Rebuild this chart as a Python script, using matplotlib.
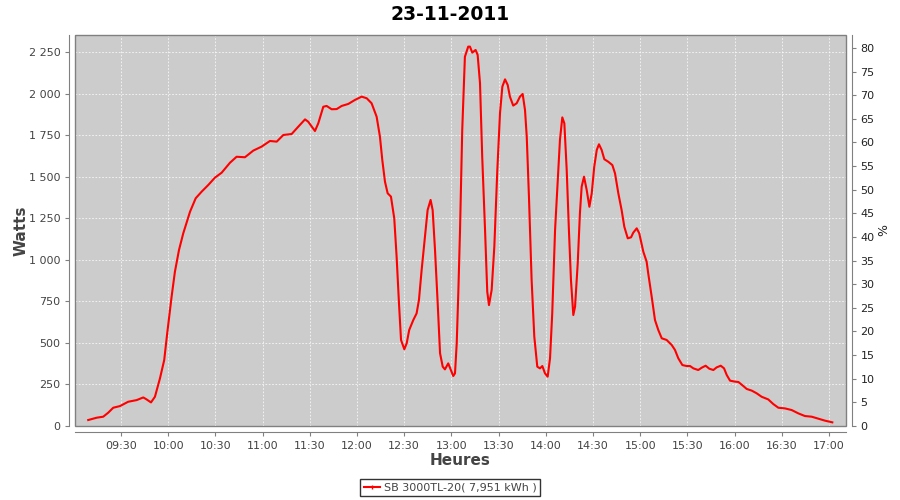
import matplotlib
matplotlib.use("Agg")
import matplotlib.pyplot as plt
from matplotlib.ticker import FuncFormatter, MultipleLocator
from matplotlib.patches import Rectangle

title = "23-11-2011"
series_label = "SB 3000TL-20( 7,951 kWh )"

# time in minutes since midnight
minutes = [549.2, 554.6, 558.75, 561.9, 565.1, 569.4, 574.6, 580.0, 584.2, 586.3,
           589.1, 591.6, 594.8, 597.5, 599.4, 602.2, 604.3, 606.9, 609.6, 613.9,
           617.5, 621.3, 625.5, 629.7, 634.0, 639.3, 643.5, 648.8, 654.1, 659.4,
           664.7, 669.0, 673.2, 678.5, 682.7, 687.0, 689.0, 693.3, 695.4, 698.6,
           700.7, 703.9, 707.1, 710.3, 714.5, 718.7, 723.0, 726.2, 729.3, 732.5,
           734.6, 736.1, 737.8, 739.5, 741.6, 743.7, 745.2, 746.7, 748.0, 750.1,
           751.6, 753.2, 755.8, 757.9, 759.4, 761.1, 763.2, 764.9, 766.8, 768.1,
           769.6, 771.3, 772.8, 774.5, 775.9, 778.0, 779.7, 781.2, 782.3, 783.4,
           784.4, 785.5, 786.9, 788.6, 790.7, 791.8, 793.3, 795.4, 796.7, 798.2,
           799.6, 801.4, 802.8, 803.9, 805.6, 807.3, 809.2, 810.9, 812.4, 814.1,
           815.8, 817.2, 819.3, 821.5, 823.6, 825.3, 826.8, 827.9, 829.3, 831.0,
           832.7, 834.6, 836.3, 837.8, 839.5, 841.2, 842.7, 844.1, 845.9, 847.6,
           849.0, 850.5, 851.8, 853.3, 854.7, 856.0, 857.5, 858.6, 860.3, 861.7,
           862.8, 864.3, 866.0, 867.7, 869.2, 870.8, 872.4, 873.8, 875.5, 877.2,
           879.7, 882.3, 884.0, 886.1, 888.2, 889.9, 892.1, 894.2, 895.6, 897.8,
           899.4, 902.0, 904.1, 905.1, 907.3, 909.4, 911.5, 913.7, 916.8, 920.0,
           922.1, 924.2, 926.8, 929.6, 931.7, 933.8, 936.9, 939.1, 941.6, 943.9,
           946.5, 948.6, 951.2, 953.3, 955.0, 957.1, 960.3, 962.4, 965.5, 967.7,
           970.9, 974.0, 977.2, 981.4, 984.6, 987.8, 992.0, 996.3, 1000.5, 1004.7,
           1009.0, 1013.2, 1017.5, 1022.1]

watts = [36, 50, 56, 80, 110, 120, 146, 156, 172, 160,
         142, 176, 287, 397, 558, 779, 929, 1060, 1160, 1290,
         1371, 1411, 1451, 1495, 1525, 1585, 1621, 1618, 1658, 1682,
         1716, 1712, 1752, 1758, 1802, 1846, 1832, 1776, 1822, 1922,
         1927, 1907, 1908, 1927, 1939, 1963, 1983, 1973, 1943, 1862,
         1742, 1601, 1471, 1401, 1381, 1250, 1019, 739, 518, 462,
         498, 578, 638, 678, 759, 939, 1140, 1300, 1361, 1300,
         1060, 739, 438, 357, 341, 377, 337, 301, 317, 498,
         800, 1180, 1782, 2223, 2284, 2284, 2248, 2264, 2234, 2063,
         1621, 1180, 809, 728, 819, 1080, 1541, 1883, 2043, 2087,
         2053, 1983, 1929, 1943, 1983, 1999, 1902, 1742, 1381, 879,
         538, 357, 347, 361, 317, 297, 408, 678, 1180, 1481,
         1722, 1858, 1822, 1541, 1180, 879, 668, 718, 980, 1281,
         1441, 1501, 1421, 1320, 1401, 1561, 1662, 1696, 1662, 1606,
         1591, 1571, 1521, 1401, 1300, 1200, 1130, 1136, 1164, 1190,
         1160, 1049, 989, 919, 779, 638, 578, 528, 518, 488,
         458, 408, 367, 361, 361, 347, 337, 351, 363, 345,
         337, 353, 363, 347, 307, 273, 267, 265, 241, 223,
         213, 197, 176, 160, 132, 110, 106, 96, 76, 60,
         56, 44, 32, 22]

x_ticks = [570, 600, 630, 660, 690, 720, 750, 780, 810, 840, 870, 900, 930, 960, 990, 1020]

fig = plt.figure(figsize=(9, 5), dpi=100)
ax = fig.add_axes([75/900, 1-426/500, (846-75)/900, (426-35)/500])
ax.set_facecolor("#cccccc")
ax.plot(minutes, watts, color="#ff0000", lw=1.5, solid_joinstyle="round", zorder=3)

ax.set_xlim(540.8, 1030.8)
ax.set_ylim(0, 2354)
ax.set_xticks(x_ticks)
ax.xaxis.set_major_formatter(FuncFormatter(lambda v, p: "%02d:%02d" % (int(v)//60, int(v) % 60)))
ax.yaxis.set_major_locator(MultipleLocator(250))
ax.yaxis.set_major_formatter(FuncFormatter(lambda v, p: "{:,}".format(int(v)).replace(",", " ")))
ax.grid(True, color="white", ls=(0, (2, 2)), lw=0.6, alpha=0.85)
ax.set_axisbelow(True)

ax.spines["top"].set_visible(False)
ax.spines["right"].set_visible(False)
for s in ["left", "bottom"]:
    ax.spines[s].set_position(("outward", 4))
    ax.spines[s].set_color("#808080")
ax.add_patch(Rectangle((0, 0), 1, 1, transform=ax.transAxes, fill=False,
                       edgecolor="#808080", lw=1.0, clip_on=False, zorder=5))

ax.tick_params(axis="both", colors="#808080", labelcolor="#444444", labelsize=8, length=3, width=0.8)
ax.set_ylabel("Watts", fontsize=11, fontweight="bold", color="#444444", labelpad=0)
ax.set_xlabel("Heures", fontsize=11, fontweight="bold", color="#444444", labelpad=2)

ax2 = ax.twinx()
ax2.set_ylim(0, 82.75)
ax2.yaxis.set_major_locator(MultipleLocator(5))
for s in ["top", "left", "bottom"]:
    ax2.spines[s].set_visible(False)
ax2.spines["right"].set_position(("outward", 4))
ax2.spines["right"].set_color("#808080")
ax2.tick_params(axis="y", colors="#808080", labelcolor="#222222", labelsize=8, length=3, width=0.8)
ax2.set_ylabel("%", fontsize=9, color="#222222", labelpad=2)

fig.text(0.5, 1-14/500, title, ha="center", va="center", fontsize=13.5, fontweight="bold", color="black")

handle, = ax.plot([], [], color="#ff0000", lw=1.5, marker="|", markersize=3)
leg = fig.legend([handle], [series_label], loc="center", bbox_to_anchor=(0.5, 1-487.5/500),
                 fontsize=8, frameon=True, fancybox=False, edgecolor="black",
                 handlelength=1.5, handletextpad=0.3, borderpad=0.35, borderaxespad=0)
leg.get_frame().set_linewidth(1.0)
for t in leg.get_texts():
    t.set_color("#444444")

fig.savefig("out.png", dpi=100)
